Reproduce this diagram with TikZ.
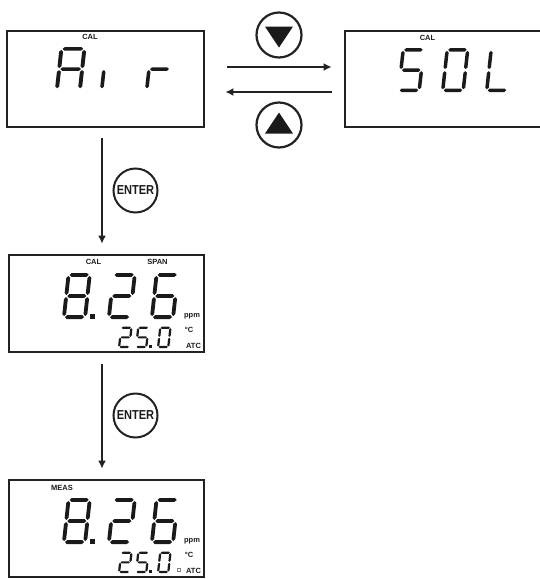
\documentclass[tikz,border=0pt]{standalone}
\usepackage{fontspec}
\usepackage{graphicx}
\setmainfont{Liberation Sans}
\usetikzlibrary{arrows.meta,calc}
\def\segh{0.08}
\def\segg{0.05}
\newcommand\hs[1]{\fill (\segg,#1) -- ({\segg+\segh},{#1+\segh}) -- ({1-\segg-\segh},{#1+\segh}) -- ({1-\segg},#1) -- ({1-\segg-\segh},{#1-\segh}) -- ({\segg+\segh},{#1-\segh}) -- cycle;}
\newcommand\vs[2]{\fill (#1,{#2+\segg}) -- ({#1+\segh},{#2+\segg+\segh}) -- ({#1+\segh},{#2+1-\segg-\segh}) -- (#1,{#2+1-\segg}) -- ({#1-\segh},{#2+1-\segg-\segh}) -- ({#1-\segh},{#2+\segg+\segh}) -- cycle;}
\newcommand\sgA{\hs{2}}
\newcommand\sgB{\vs{1}{1}}
\newcommand\sgC{\vs{1}{0}}
\newcommand\sgD{\hs{0}}
\newcommand\sgE{\vs{0}{0}}
\newcommand\sgF{\vs{0}{1}}
\newcommand\sgG{\hs{1}}
% #1 x, #2 y of bottom-left outer corner (px), #3 sx, #4 sy, #5 half thickness, #6 segments
\newcommand\ssd[6]{%
  \begin{scope}[shift={(#1+#5*#3,#2-#5*#4)}, x={(#3pt,0pt)}, y={({0.11*#4pt},{#4pt})}, fill=segcol]
    \def\segh{#5}%
    \foreach \s in {#6} {\csname sg\s\endcsname}
  \end{scope}}
\definecolor{segcol}{HTML}{1A1A1A}
\definecolor{boxcol}{HTML}{222222}
\begin{document}
\begin{tikzpicture}[x=1pt,y=-1pt,
  box/.style={draw=boxcol, line width=2.8pt, inner sep=0pt},
  lbl/.style={font=\bfseries\fontsize{7.5}{7.5}\selectfont, inner sep=0pt, text=segcol},
  keycirc/.style={circle, draw=boxcol, line width=2.2pt, minimum size=45pt, inner sep=0pt},
  entercirc/.style={circle, draw=boxcol, line width=2pt, minimum size=44pt, inner sep=0pt,
     font=\bfseries\fontsize{13}{13}\selectfont, text=segcol},
  arr/.style={draw=boxcol, line width=2.4pt, -{Latex[length=8pt,width=8pt]}}]
\useasboundingbox (0,0) rectangle (539,579);
% boxes
\node[box, minimum width=197pt, minimum height=96pt] (b1) at (105.5,79) {};
\node[box, minimum width=215pt, minimum height=96pt] (b2) at (452.5,79) {};
\node[box, minimum width=195pt, minimum height=97pt] (b3) at (106.5,303.5) {};
\node[box, minimum width=195pt, minimum height=97pt] (b4) at (106.5,528.5) {};
% keys
\node[keycirc] (kdown) at (279,35) {};
\fill[segcol] ($(kdown)+(-14,-8.5)$) -- ($(kdown)+(14,-8.5)$) -- ($(kdown)+(0,12.5)$) -- cycle;
\node[keycirc] (kup) at (279,125) {};
\fill[segcol] ($(kup)+(-14,8.5)$) -- ($(kup)+(14,8.5)$) -- ($(kup)+(0,-12.5)$) -- cycle;
\node[entercirc] (e1) at (135.5,190.5) {\scalebox{0.85}[1]{ENTER}};
\node[entercirc] (e2) at (135.5,415.5) {\scalebox{0.85}[1]{ENTER}};
% arrows
\draw[arr] ([xshift=22pt,yshift=12pt]b1.east) -- ([xshift=-12pt,yshift=12pt]b2.west);
\draw[arr] ([xshift=-12pt,yshift=-13pt]b2.west) -- ([xshift=20pt,yshift=-13pt]b1.east);
\draw[arr] ([xshift=-3.5pt,yshift=-10pt]b1.south) -- ([xshift=-4.5pt,yshift=10pt]b3.north);
\draw[arr] ([xshift=-4.5pt,yshift=-11pt]b3.south) -- ([xshift=-4.5pt,yshift=10pt]b4.north);
% labels
\node[lbl] (c1) at (90,37) {CAL};
\node[lbl] (c2) at (427.5,38) {CAL};
\node[lbl] (c3) at (93.5,262) {CAL};
\node[lbl] (sp) at (157.5,262) {SPAN};
\node[lbl] (ms) at (62,488) {MEAS};
\node[lbl] (p3) at (192,316) {ppm};
\node[lbl] (d3) at (189,330) {°C};
\node[lbl] (a3) at (193.5,346) {ATC};
\node[lbl] (p4) at (192,541) {ppm};
\node[lbl] (d4) at (189,555) {°C};
\node[lbl] (a4) at (193.5,571) {ATC};
% box 1: Air
\ssd{55}{91}{23}{20.2}{0.085}{A,B,C,E,F,G}
\ssd{100}{91}{21}{20.2}{0.085}{E}
\ssd{145}{91}{21}{20.2}{0.085}{E,G}
% box 2: SOL
\ssd{397}{92}{20.5}{20.2}{0.085}{A,F,G,C,D}
\ssd{441}{92}{20.5}{20.2}{0.085}{A,B,C,D,E,F}
\ssd{485}{92}{20.5}{20.2}{0.085}{F,E,D}
% box 3
\ssd{62}{319}{21.2}{21.1}{0.09}{A,B,C,D,E,F,G}
\fill[segcol] (90,314) rectangle (94.5,318.5);
\ssd{107}{319}{21.2}{21.1}{0.09}{A,B,G,E,D}
\ssd{150}{319}{21.2}{21.1}{0.09}{A,F,G,E,D,C}
\ssd{118}{348}{10.2}{9.6}{0.11}{A,B,G,E,D}
\ssd{135}{348}{10.2}{9.6}{0.11}{A,F,G,C,D}
\fill[segcol] (149,345) rectangle (152,348);
\ssd{157}{348}{10.2}{9.6}{0.11}{A,B,C,D,E,F}
% box 4
\ssd{62}{544}{21.2}{21.1}{0.09}{A,B,C,D,E,F,G}
\fill[segcol] (90,539) rectangle (94.5,543.5);
\ssd{107}{544}{21.2}{21.1}{0.09}{A,B,G,E,D}
\ssd{150}{544}{21.2}{21.1}{0.09}{A,F,G,E,D,C}
\ssd{118}{573}{10.2}{9.6}{0.11}{A,B,G,E,D}
\ssd{135}{573}{10.2}{9.6}{0.11}{A,F,G,C,D}
\fill[segcol] (149,570) rectangle (152,573);
\ssd{157}{573}{10.2}{9.6}{0.11}{A,B,C,D,E,F}
\draw[gray, line width=0.4pt] (177.5,568) rectangle (180.5,571);
\end{tikzpicture}
\end{document}
